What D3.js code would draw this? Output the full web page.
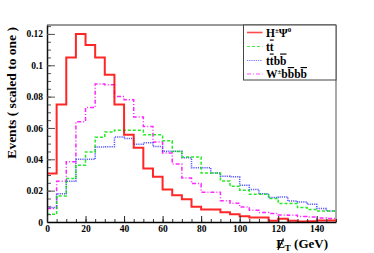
<!DOCTYPE html>
<html>
<head>
<meta charset="utf-8">
<script src="https://cdn.jsdelivr.net/npm/d3@7"></script>
<style>
  body { margin: 0; background: #fff; }
  text { font-family: "Liberation Serif", "DejaVu Serif", serif; font-weight: bold; }
</style>
</head>
<body>
<svg id="G1"></svg>
<script>
//* Missing ET distributions *//

// bin low edges (GeV), 5 GeV wide
const BIN_EDGES = d3.range(0, 155, 5);

const H_PSI = [0.031, 0.075, 0.105, 0.120, 0.113, 0.105, 0.094, 0.075, 0.0556, 0.0473,
               0.0341, 0.0288, 0.0207, 0.0171, 0.0145, 0.0097, 0.0079, 0.0079, 0.0062, 0.0049,
               0.0036, 0.0028, 0.0028, 0.0008, 0.0020, 0.0008, 0.0003, 0.0005, 0.0010, 0.0010];
const TT = [0.0049, 0.0166, 0.0277, 0.0362, 0.0447, 0.054, 0.0575, 0.0586, 0.0586, 0.0586,
            0.0556, 0.0556, 0.0518, 0.045, 0.0415, 0.0415, 0.0313, 0.0313, 0.0262, 0.0228,
            0.0203, 0.0177, 0.0177, 0.015, 0.0118, 0.0118, 0.0092, 0.008, 0.007, 0.007];
const TTBB = [0.0092, 0.018, 0.026, 0.040, 0.040, 0.0478, 0.048, 0.0543, 0.0533, 0.0496,
              0.0505, 0.0482, 0.0452, 0.0452, 0.041, 0.0346, 0.0346, 0.0313, 0.0292, 0.0288,
              0.0234, 0.0207, 0.018, 0.0156, 0.016, 0.0134, 0.0128, 0.0113, 0.0086, 0.007];
const WBBBB = [0.0086, 0.026, 0.0385, 0.064, 0.073, 0.088, 0.0875, 0.080, 0.078, 0.067,
               0.061, 0.051, 0.044, 0.037, 0.028, 0.0245, 0.019, 0.019, 0.0135, 0.012,
               0.0095, 0.0075, 0.006, 0.0055, 0.0045, 0.0043, 0.0035, 0.0032, 0.0025, 0.0022];

const X_TICKS = [0, 20, 40, 60, 80, 100, 120, 140];
const Y_TICKS = [0, 0.02, 0.04, 0.06, 0.08, 0.1, 0.12];
const Y_TICK_LABELS = ["0", "0.02", "0.04", "0.06", "0.08", "0.1", "0.12"];

const WIDTH = 374;
const HEIGHT = 253;
const PLOT = { left: 47, right: 336, top: 25, bottom: 222 };

const svg = d3.select('#G1')
.attr('width', WIDTH)
.attr('height', HEIGHT)
;

//Create Scales
const xScale = d3.scaleLinear().domain([0, 150]).range([PLOT.left, PLOT.right]);
const yScale = d3.scaleLinear().domain([0, 0.1257]).range([PLOT.bottom, PLOT.top]);

// clip for the histograms
svg.append('clipPath').attr('id', 'plotclip')
.append('rect')
.attr('x', PLOT.left).attr('y', PLOT.top)
.attr('width', PLOT.right - PLOT.left).attr('height', PLOT.bottom - PLOT.top);

// frame: top grey, right dark
svg.append('line')
.attr('x1', PLOT.left).attr('x2', PLOT.right)
.attr('y1', PLOT.top).attr('y2', PLOT.top)
.attr('stroke', '#999').attr('stroke-width', 2);
svg.append('line')
.attr('x1', PLOT.right).attr('x2', PLOT.right)
.attr('y1', PLOT.top).attr('y2', PLOT.bottom)
.attr('stroke', '#555').attr('stroke-width', 1);

//Draw histograms
const SERIES = [
    { name: 'hpsi', values: H_PSI, color: '#ff0000', width: 2, dash: null },
    { name: 'tt', values: TT, color: '#00e600', width: 1.5, dash: '3,2' },
    { name: 'ttbb', values: TTBB, color: '#3d3dff', width: 1.5, dash: '1.2,1' },
    { name: 'wbbbb', values: WBBBB, color: '#ff00ff', width: 1.5, dash: '4,2,1,2' },
];

const stepLine = d3.line()
.x(d => xScale(d[0]))
.y(d => yScale(d[1]))
.curve(d3.curveStepAfter);

const hists = svg.append('g').attr('clip-path', 'url(#plotclip)');
// draw back to front so red is on top
SERIES.slice().reverse().forEach(s => {
    const pts = s.values.map((v, i) => [BIN_EDGES[i], v]);
    pts.push([BIN_EDGES[s.values.length], s.values[s.values.length - 1]]);
    hists.append('path')
    .attr('d', stepLine(pts))
    .attr('fill', 'none')
    .attr('stroke', s.color)
    .attr('stroke-width', s.width)
    .attr('stroke-dasharray', s.dash)
    .attr('opacity', 0.85);
});

// DRAW Y-AXIS
const minorY = d3.range(0, 0.126, 0.005);
svg.append('g')
.attr('transform', `translate(${PLOT.left},0)`)
.call(d3.axisLeft(yScale).tickValues(minorY).tickFormat('').tickSize(-4).tickSizeOuter(0))
.call(g => g.select('.domain').remove())
.selectAll('line').attr('stroke', '#555');

const yAxis = svg.append('g')
.attr('transform', `translate(${PLOT.left},0)`)
.call(d3.axisLeft(yScale)
  .tickValues(Y_TICKS)
  .tickFormat((d, i) => Y_TICK_LABELS[i])
  .tickSize(-8)
  .tickPadding(4)
  .tickSizeOuter(0))
;
yAxis.select('.domain').attr('stroke', '#111').attr('stroke-width', 1.5);
yAxis.selectAll('line').attr('stroke', '#555');
yAxis.selectAll('text')
.attr('font-size', '9.5px')
.attr('font-family', '"Liberation Serif", serif')
.attr('fill', '#000');

//DRAW X-AXIS
const minorX = d3.range(0, 151, 5);
svg.append('g')
.attr('transform', `translate(0,${PLOT.bottom})`)
.call(d3.axisBottom(xScale).tickValues(minorX).tickFormat('').tickSize(-3).tickSizeOuter(0))
.call(g => g.select('.domain').remove())
.selectAll('line').attr('stroke', '#333');

const xAxis = svg.append('g')
.attr('transform', `translate(0,${PLOT.bottom})`)
.call(d3.axisBottom(xScale)
  .tickValues(X_TICKS)
  .tickFormat(d3.format('d'))
  .tickSize(-6)
  .tickPadding(3)
  .tickSizeOuter(0))
;
xAxis.select('.domain').attr('stroke', '#000').attr('stroke-width', 1.5);
xAxis.selectAll('line').attr('stroke', '#222');
xAxis.selectAll('text')
.attr('font-size', '9.5px')
.attr('font-family', '"Liberation Serif", serif')
.attr('fill', '#000');

//Labels
svg.append('text')
.attr('transform', 'translate(15.5,27) rotate(-90)')
.attr('text-anchor', 'end')
.attr('font-size', '13.5px')
.text('Events  ( scaled to one )');

// x title: slashed E_T (GeV)
const xTitle = svg.append('text')
.attr('x', 328)
.attr('y', 248)
.attr('text-anchor', 'end')
.attr('font-size', '13px');
xTitle.append('tspan').text('E');
xTitle.append('tspan').attr('font-size', '9px').attr('dy', 3).text('T');
xTitle.append('tspan').attr('dy', -3).text(' (GeV)');

// slash through the E
const eBox = xTitle.node().getExtentOfChar(0);
svg.append('line')
.attr('x1', eBox.x + eBox.width * 0.2).attr('y1', 250)
.attr('x2', eBox.x + eBox.width * 0.85).attr('y2', 238.5)
.attr('stroke', '#000')
.attr('stroke-width', 1.2);

//Legend
const LEGEND = { x: 243.5, y: 25, w: 92.5, h: 55 };
svg.append('rect')
.attr('x', LEGEND.x).attr('y', LEGEND.y)
.attr('width', LEGEND.w).attr('height', LEGEND.h)
.attr('fill', '#fff')
.attr('stroke', '#444')
.attr('stroke-width', 1);

const rowY = [32.5, 46.5, 60.5, 74];
SERIES.forEach((s, i) => {
    svg.append('line')
    .attr('x1', 247).attr('x2', 262.5)
    .attr('y1', rowY[i]).attr('y2', rowY[i])
    .attr('stroke', s.color)
    .attr('stroke-width', s.width * 0.8)
    .attr('stroke-dasharray', s.dash)
    .attr('opacity', 0.7);
});

const legendText = i => svg.append('text')
.attr('x', 266)
.attr('y', rowY[i] + 4)
.attr('font-size', '11.5px');

const l0 = legendText(0);
l0.append('tspan').text('H');
l0.append('tspan').attr('font-size', '7px').attr('dy', -4).text('±');
l0.append('tspan').attr('dy', 4).text('Ψ');
l0.append('tspan').attr('font-size', '7px').attr('dy', -5).text('0');

const l1 = legendText(1);
l1.append('tspan').text('t');
l1.append('tspan').attr('text-decoration', 'overline').text('t');

const l2 = legendText(2);
l2.append('tspan').text('t');
l2.append('tspan').attr('text-decoration', 'overline').text('t');
l2.append('tspan').text('b');
l2.append('tspan').attr('text-decoration', 'overline').text('b');

const l3 = legendText(3);
l3.append('tspan').text('W');
l3.append('tspan').attr('font-size', '7px').attr('dy', -4).text('±');
l3.append('tspan').attr('dy', 4).text('b');
l3.append('tspan').attr('text-decoration', 'overline').text('b');
l3.append('tspan').text('b');
l3.append('tspan').attr('text-decoration', 'overline').text('b');
</script>
</body>
</html>
